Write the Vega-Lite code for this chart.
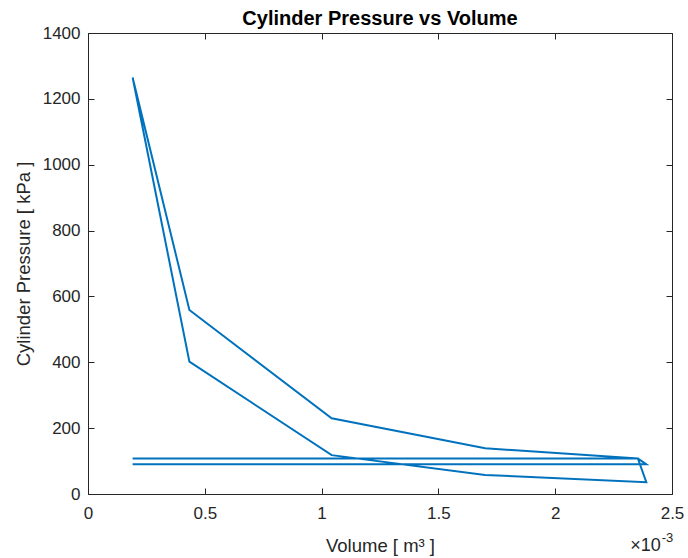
{
  "$schema": "https://vega.github.io/schema/vega-lite/v6.json",
  "width": 584,
  "height": 461,
  "autosize": "none",
  "padding": {"left": 88, "top": 33, "right": 16, "bottom": 64},
  "background": "white",
  "title": {
    "text": "Cylinder Pressure vs Volume",
    "font": "Liberation Sans",
    "fontSize": 20,
    "fontWeight": "bold",
    "color": "#000000",
    "anchor": "middle",
    "offset": -5
  },
  "config": {
    "view": {"stroke": "#262626", "strokeWidth": 1},
    "axis": {
      "grid": false,
      "domain": false,
      "tickColor": "#262626",
      "tickSize": 6,
      "tickWidth": 1,
      "labelFont": "Liberation Sans",
      "labelFontSize": 17,
      "labelColor": "#262626",
      "labelFlush": false,
      "titleFont": "Liberation Sans",
      "titleFontSize": 18.5,
      "titleFontWeight": "normal",
      "titleColor": "#262626"
    }
  },
  "data": {
    "values": [
      {"step": 1, "volume": 0.000191, "pressure": 90},
      {"step": 2, "volume": 0.002390, "pressure": 90},
      {"step": 3, "volume": 0.002354, "pressure": 108},
      {"step": 4, "volume": 0.001700, "pressure": 139},
      {"step": 5, "volume": 0.001043, "pressure": 230},
      {"step": 6, "volume": 0.000434, "pressure": 559},
      {"step": 7, "volume": 0.000191, "pressure": 1265},
      {"step": 8, "volume": 0.000434, "pressure": 402},
      {"step": 9, "volume": 0.001043, "pressure": 118},
      {"step": 10, "volume": 0.001700, "pressure": 58},
      {"step": 11, "volume": 0.002390, "pressure": 36},
      {"step": 12, "volume": 0.002354, "pressure": 108},
      {"step": 13, "volume": 0.000191, "pressure": 108}
    ]
  },
  "layer": [
    {
      "mark": {"type": "line", "color": "#0072BD", "strokeWidth": 2, "clip": true},
      "encoding": {
        "x": {
          "field": "volume",
          "type": "quantitative",
          "scale": {"domain": [0, 0.0025], "nice": false, "zero": false},
          "axis": {
            "orient": "bottom",
            "values": [0, 0.0005, 0.001, 0.0015, 0.002, 0.0025],
            "labelExpr": "format(datum.value * 1000, '.3~g')",
            "ticks": false,
            "labelPadding": 11,
            "title": "Volume [ m³ ]",
            "titlePadding": 15
          }
        },
        "y": {
          "field": "pressure",
          "type": "quantitative",
          "scale": {"domain": [0, 1400], "nice": false, "zero": false},
          "axis": {
            "orient": "left",
            "values": [0, 200, 400, 600, 800, 1000, 1200, 1400],
            "format": "d",
            "ticks": false,
            "labelPadding": 8,
            "title": "Cylinder Pressure [ kPa ]",
            "titlePadding": 9
          }
        },
        "order": {"field": "step", "type": "quantitative"}
      }
    },
    {
      "mark": {"type": "point", "opacity": 0},
      "encoding": {
        "x": {
          "field": "volume",
          "type": "quantitative",
          "axis": {
            "orient": "top",
            "offset": -6,
            "values": [0, 0.0005, 0.001, 0.0015, 0.002, 0.0025],
            "labels": false,
            "title": null
          }
        },
        "y": {
          "field": "pressure",
          "type": "quantitative",
          "axis": {
            "orient": "right",
            "offset": -6,
            "values": [0, 200, 400, 600, 800, 1000, 1200, 1400],
            "labels": false,
            "title": null
          }
        }
      }
    },
    {
      "mark": {"type": "point", "opacity": 0},
      "encoding": {
        "x": {
          "field": "volume",
          "type": "quantitative",
          "axis": {
            "orient": "bottom",
            "offset": -6,
            "values": [0, 0.0005, 0.001, 0.0015, 0.002, 0.0025],
            "labels": false,
            "title": null
          }
        },
        "y": {
          "field": "pressure",
          "type": "quantitative",
          "axis": {
            "orient": "left",
            "offset": -6,
            "values": [0, 200, 400, 600, 800, 1000, 1200, 1400],
            "labels": false,
            "title": null
          }
        }
      }
    },
    {
      "data": {"values": [{"label": "×10"}]},
      "mark": {
        "type": "text",
        "font": "Liberation Sans",
        "fontSize": 18,
        "color": "#262626",
        "align": "right",
        "baseline": "alphabetic"
      },
      "encoding": {
        "x": {"datum": 0.002452, "type": "quantitative", "axis": null},
        "y": {"datum": -173, "type": "quantitative", "axis": null},
        "text": {"field": "label"}
      }
    },
    {
      "data": {"values": [{"label": "-3"}]},
      "mark": {
        "type": "text",
        "font": "Liberation Sans",
        "fontSize": 13,
        "color": "#262626",
        "align": "left",
        "baseline": "alphabetic",
        "dx": 1
      },
      "encoding": {
        "x": {"datum": 0.002452, "type": "quantitative", "axis": null},
        "y": {"datum": -146, "type": "quantitative", "axis": null},
        "text": {"field": "label"}
      }
    }
  ],
  "resolve": {"axis": {"x": "independent", "y": "independent"}}
}
